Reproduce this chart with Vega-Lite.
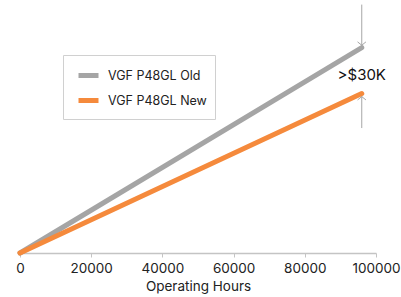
{
  "$schema": "https://vega.github.io/schema/vega-lite/v6.json",
  "autosize": {"type": "none"},
  "padding": {"left": 20, "top": 0, "right": 25, "bottom": 44},
  "width": 356,
  "height": 253,
  "background": "white",
  "config": {"view": {"stroke": null}, "font": "Inter"},
  "encoding": {
    "x": {
      "field": "hours", "type": "quantitative",
      "scale": {"domain": [0, 100000]},
      "axis": {
        "title": "Operating Hours",
        "values": [0, 20000, 40000, 60000, 80000, 100000],
        "format": "d",
        "grid": false,
        "domainColor": "#C4C4C4",
        "domainWidth": 1.5,
        "tickColor": "#C4C4C4",
        "tickSize": 4,
        "labelFontSize": 13.5,
        "labelColor": "#222222",
        "labelPadding": 4,
        "labelFlush": false,
        "labelOverlap": false,
        "titleFontSize": 13.5,
        "titleFontWeight": "normal",
        "titleColor": "#222222",
        "titlePadding": 5
      }
    },
    "y": {
      "field": "cost", "type": "quantitative",
      "scale": {"domain": [0, 165000]},
      "axis": null
    }
  },
  "layer": [
    {
      "data": {"values": [
        {"hours": 96000, "cost": 162000, "cost2": 134500},
        {"hours": 96000, "cost": 81500, "cost2": 103000}
      ]},
      "mark": {"type": "rule", "color": "#A6A6A6", "strokeWidth": 1},
      "encoding": {
        "y2": {"field": "cost2"}
      }
    },
    {
      "data": {"values": [
        {"hours": 0, "cost": 0, "series": "VGF P48GL Old"},
        {"hours": 96000, "cost": 134000, "series": "VGF P48GL Old"},
        {"hours": 0, "cost": 0, "series": "VGF P48GL New"},
        {"hours": 96000, "cost": 104000, "series": "VGF P48GL New"}
      ]},
      "mark": {"type": "line", "strokeWidth": 5, "strokeCap": "round"},
      "encoding": {
        "color": {
          "field": "series", "type": "nominal",
          "scale": {"domain": ["VGF P48GL Old", "VGF P48GL New"], "range": ["#A5A5A5", "#F58A3C"]},
          "legend": {
            "title": null,
            "orient": "none",
            "legendX": 43,
            "legendY": 55,
            "symbolType": "stroke",
            "symbolStrokeWidth": 5,
            "symbolSize": 400,
            "symbolOffset": 5,
            "labelFontSize": 12.5,
            "labelColor": "#222222",
            "rowPadding": 2,
            "padding": 8,
            "strokeColor": "#D0D0D0",
            "fillColor": "white",
            "labelOffset": 7
          }
        }
      }
    },
    {
      "data": {"values": [{"hours": 96000, "cost": 135500}]},
      "mark": {"type": "point", "shape": "M-1,-0.8L0,0L1,-0.8", "filled": false, "color": "#A6A6A6", "stroke": "#A6A6A6", "opacity": 1, "strokeWidth": 1, "size": 70}
    },
    {
      "data": {"values": [{"hours": 96000, "cost": 102000}]},
      "mark": {"type": "point", "shape": "M-1,0.8L0,0L1,0.8", "filled": false, "color": "#A6A6A6", "stroke": "#A6A6A6", "opacity": 1, "strokeWidth": 1, "size": 70}
    },
    {
      "data": {"values": [{"hours": 96000, "cost": 116000, "label": ">$30K"}]},
      "mark": {"type": "text", "fontSize": 15, "color": "#111111", "align": "center", "baseline": "middle"},
      "encoding": {
        "text": {"field": "label"}
      }
    }
  ]
}
